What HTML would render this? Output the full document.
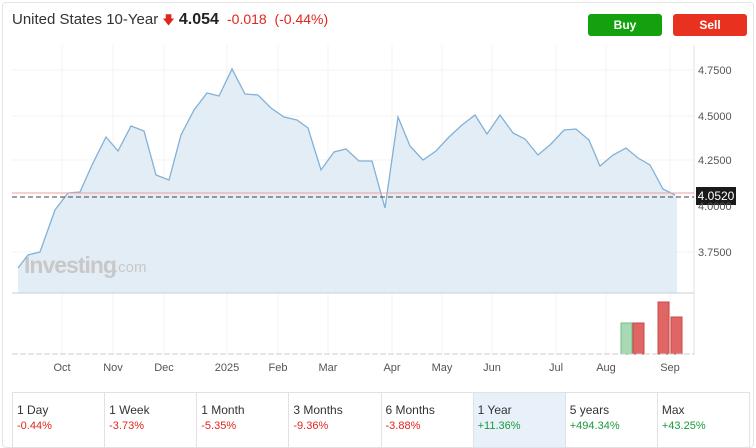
<!DOCTYPE html>
<html><head><meta charset="utf-8"><style>
body{margin:0;width:756px;height:448px;background:#fff;font-family:"Liberation Sans",sans-serif;overflow:hidden;position:relative}
.frame{position:absolute;left:2px;top:2px;width:750px;height:444px;border:1px solid #e4e4e4;border-radius:4px}
.title{position:absolute;left:12px;top:11px;font-size:15px;color:#333}
.title b{color:#222;font-size:16px}
.red{color:#e0261e}
.btn{position:absolute;top:14px;height:22px;width:74px;border-radius:3px;color:#fff;font-weight:bold;font-size:12px;text-align:center;line-height:22px}
.tbl{position:absolute;left:12px;top:392px;width:736px;height:54px;border:1px solid #e2e2e2;display:flex}
.c{flex:1;border-right:1px solid #e2e2e2;padding:9px 0 0 4px;font-size:12px;color:#333;line-height:16px}
.c:last-child{border-right:none}
.c span{font-size:11px;display:block}
.g{color:#1a9a3a}
</style></head><body>
<div class="frame"></div>
<div class="title">United States 10-Year <span class="red" style="font-size:12px">&#129095;</span> <b>4.054</b> <span class="red" style="font-size:14px">&nbsp;-0.018 &nbsp;(-0.44%)</span></div>
<div class="btn" style="left:588px;background:#13a10e">Buy</div>
<div class="btn" style="left:673px;background:#e8321f">Sell</div>
<svg style="position:absolute;left:0;top:0" width="756" height="448">
<g stroke="#f3f3f3" stroke-width="1">
<line x1="62" y1="45" x2="62" y2="354"/><line x1="113" y1="45" x2="113" y2="354"/><line x1="164" y1="45" x2="164" y2="354"/><line x1="227" y1="45" x2="227" y2="354"/><line x1="278" y1="45" x2="278" y2="354"/><line x1="328" y1="45" x2="328" y2="354"/><line x1="392" y1="45" x2="392" y2="354"/><line x1="442" y1="45" x2="442" y2="354"/><line x1="492" y1="45" x2="492" y2="354"/><line x1="556" y1="45" x2="556" y2="354"/><line x1="606" y1="45" x2="606" y2="354"/><line x1="670" y1="45" x2="670" y2="354"/>
<line x1="12" y1="70" x2="694" y2="70"/><line x1="12" y1="116" x2="694" y2="116"/><line x1="12" y1="160" x2="694" y2="160"/><line x1="12" y1="252" x2="694" y2="252"/>
</g>
<line x1="694" y1="45" x2="694" y2="354" stroke="#e2e2e2"/>
<polygon fill="#e3edf5" points="18,293 18,268 28,255 40,252 55,210 68,193 80,192 92,165 106,137 118,151 131,126 144,131 156,175 169,180 181,135 194,110 207,93 219,96 232,69 245,94 258,95 271,108 284,117 297,120 308,128 321,170 334,152 346,149 359,161 372,161 385,208 398,117 410,146 423,160 436,151 449,137 462,125 475,115 487,134 500,115 513,133 525,139 538,155 551,144 564,130 576,129 589,140 600,166 613,155 626,148 638,158 650,165 663,189 675,195 677,195 677,293"/>
<text x="24" y="273" font-size="23" font-weight="bold" fill="#c8c8c8" letter-spacing="-1">Investing</text><text x="114" y="272" font-size="15" fill="#c8c8c8">.com</text>
<polyline fill="none" stroke="#82b1d8" stroke-width="1.3" points="18,268 28,255 40,252 55,210 68,193 80,192 92,165 106,137 118,151 131,126 144,131 156,175 169,180 181,135 194,110 207,93 219,96 232,69 245,94 258,95 271,108 284,117 297,120 308,128 321,170 334,152 346,149 359,161 372,161 385,208 398,117 410,146 423,160 436,151 449,137 462,125 475,115 487,134 500,115 513,133 525,139 538,155 551,144 564,130 576,129 589,140 600,166 613,155 626,148 638,158 650,165 663,189 675,195"/>
<line x1="12" y1="293" x2="694" y2="293" stroke="#c8d0d8"/>
<line x1="12" y1="193" x2="694" y2="193" stroke="#f0a0a0"/>
<line x1="12" y1="197" x2="694" y2="197" stroke="#444" stroke-dasharray="5,3"/>
<rect x="696" y="187" width="40" height="18" fill="#1a1a1a"/>
<text x="716" y="200" font-size="12" fill="#fff" text-anchor="middle">4.0520</text>
<g font-size="11" fill="#555"><text x="698" y="74">4.7500</text><text x="698" y="120">4.5000</text><text x="698" y="164">4.2500</text><text x="698" y="210">4.0000</text><text x="698" y="256">3.7500</text></g>
<rect x="621" y="323" width="11" height="31" fill="#a8d8b4" stroke="#6cbf84"/>
<rect x="633" y="323" width="11" height="31" fill="#e06666" stroke="#c84a4a"/>
<rect x="658" y="302" width="11" height="52" fill="#e06666" stroke="#c84a4a"/>
<rect x="671" y="317" width="11" height="37" fill="#e06666" stroke="#c84a4a"/>
<line x1="12" y1="354" x2="694" y2="354" stroke="#ccc" stroke-dasharray="6,2"/>
<g font-size="11" fill="#555" text-anchor="middle"><text x="62" y="371">Oct</text><text x="113" y="371">Nov</text><text x="164" y="371">Dec</text><text x="227" y="371">2025</text><text x="278" y="371">Feb</text><text x="328" y="371">Mar</text><text x="392" y="371">Apr</text><text x="442" y="371">May</text><text x="492" y="371">Jun</text><text x="556" y="371">Jul</text><text x="606" y="371">Aug</text><text x="670" y="371">Sep</text></g>
</svg>
<div class="tbl">
<div class="c">1 Day<span class="red">-0.44%</span></div>
<div class="c">1 Week<span class="red">-3.73%</span></div>
<div class="c">1 Month<span class="red">-5.35%</span></div>
<div class="c">3 Months<span class="red">-9.36%</span></div>
<div class="c">6 Months<span class="red">-3.88%</span></div>
<div class="c" style="background:#e8f1fa">1 Year<span class="g">+11.36%</span></div>
<div class="c">5 years<span class="g">+494.34%</span></div>
<div class="c">Max<span class="g">+43.25%</span></div>
</div>
</body></html>
